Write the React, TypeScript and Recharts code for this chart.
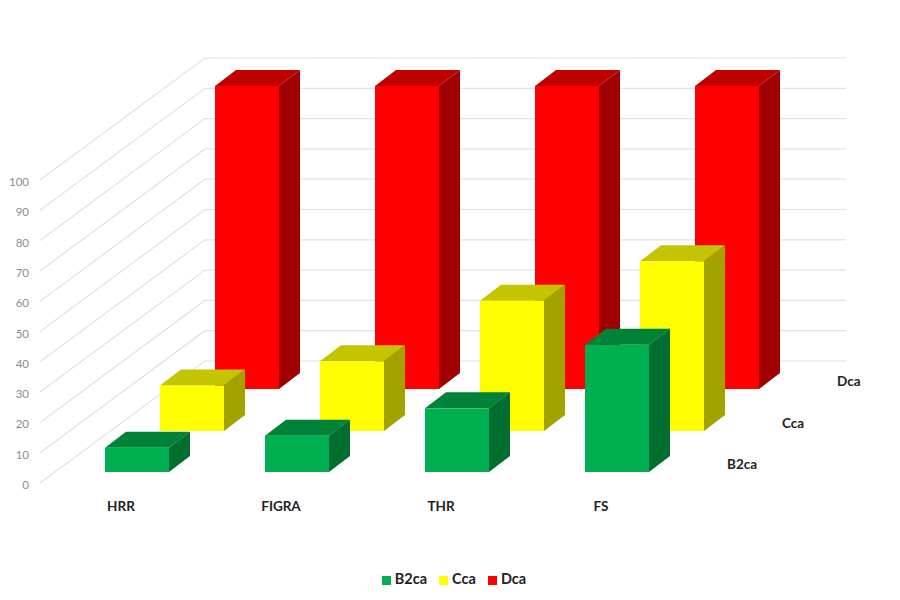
import React from 'react';
import { BarChart, Bar, XAxis, YAxis, CartesianGrid, Legend } from 'recharts';

const categories = ['HRR', 'FIGRA', 'THR', 'FS'];
const b2ca = [8, 12, 21, 42];
const cca = [15, 23, 43, 56];
const dca = [100, 100, 100, 100];
const yTicks = [0, 10, 20, 30, 40, 50, 60, 70, 80, 90, 100];
const depthNames = ['B2ca', 'Cca', 'Dca'];

const data = categories.map((name, i) => ({ name, B2ca: b2ca[i], Cca: cca[i], Dca: dca[i] }));

const WALL_DX = 165;
const WALL_DY = 122;
const BAR_DX = 21;
const BAR_DY = 16;
const WALL_RIGHT = 846;

const Bar3D = (props: any) => {
  const { x, y, width, height, front, top, side, shiftX, shiftY } = props;
  const l = x + shiftX;
  const r = l + width;
  const t = y - shiftY;
  const b = t + height;
  return (
    <g>
      <polygon points={`${l},${t} ${l + BAR_DX},${t - BAR_DY} ${r + BAR_DX},${t - BAR_DY} ${r},${t}`} fill={top} />
      <polygon points={`${r},${t} ${r + BAR_DX},${t - BAR_DY} ${r + BAR_DX},${b - BAR_DY} ${r},${b}`} fill={side} />
      <rect x={l} y={t} width={width} height={height} fill={front} />
    </g>
  );
};

const gridLine = (props: any) => {
  const { x1, y1, key } = props;
  const x0 = x1 - 1;
  return (
    <polyline
      key={key ?? y1}
      points={`${x0},${y1} ${x0 + WALL_DX},${y1 - WALL_DY} ${WALL_RIGHT},${y1 - WALL_DY}`}
      fill="none"
      stroke="#e2e2e2"
      strokeWidth={1.2}
    />
  );
};

const labelStyle = { fontFamily: 'Lato, "Open Sans", sans-serif', fontWeight: 700, fontSize: 13.5, fill: '#222' };

export default function App() {
  return (
    <div style={{ position: 'absolute', left: 0, top: 0, background: '#fff' }}>
      <BarChart
        width={900}
        height={600}
        data={data}
        margin={{ top: 180, right: 219, bottom: 0, left: 0 }}
        barSize={64}
        barGap={-64}
      >
        <CartesianGrid horizontal={gridLine} vertical={false} />
        <XAxis
          dataKey="name"
          axisLine={false}
          tickLine={false}
          height={83}
          tick={labelStyle}
          tickMargin={12}
          interval={0}
        />
        <YAxis
          width={41}
          domain={[0, 100]}
          ticks={yTicks}
          axisLine={false}
          tickLine={false}
          tickMargin={6}
          interval={0}
          tick={{ fontFamily: 'Lato, "Open Sans", sans-serif', fontSize: 11.5, fill: '#8c8c8c', dy: 2 }}
        />
        <Legend
          verticalAlign="bottom"
          align="center"
          iconType="square"
          iconSize={9}
          height={30}
          wrapperStyle={{ left: 10, width: 900, paddingTop: 4, ...labelStyle, fontSize: 14.5 }}
          formatter={(v: string) => <span style={{ color: '#222', marginRight: 2 }}>{v}</span>}
        />
        <Bar
          dataKey="Dca"
          fill="#ff0000"
          isAnimationActive={false}
          shape={(p: any) => <Bar3D {...p} front="#ff0000" top="#c00000" side="#a00000" shiftX={126} shiftY={94} />}
        />
        <Bar
          dataKey="Cca"
          fill="#ffff00"
          isAnimationActive={false}
          shape={(p: any) => <Bar3D {...p} front="#ffff00" top="#c4c400" side="#a3a300" shiftX={71} shiftY={52} />}
        />
        <Bar
          dataKey="B2ca"
          fill="#00b050"
          isAnimationActive={false}
          shape={(p: any) => <Bar3D {...p} front="#00b050" top="#008238" side="#006e31" shiftX={16} shiftY={11} />}
        />
        {depthNames.map((n, i) => (
          <text key={n} x={727 + i * 55} y={469 - i * 41.5} style={labelStyle as any}>
            {n}
          </text>
        ))}
      </BarChart>
    </div>
  );
}
